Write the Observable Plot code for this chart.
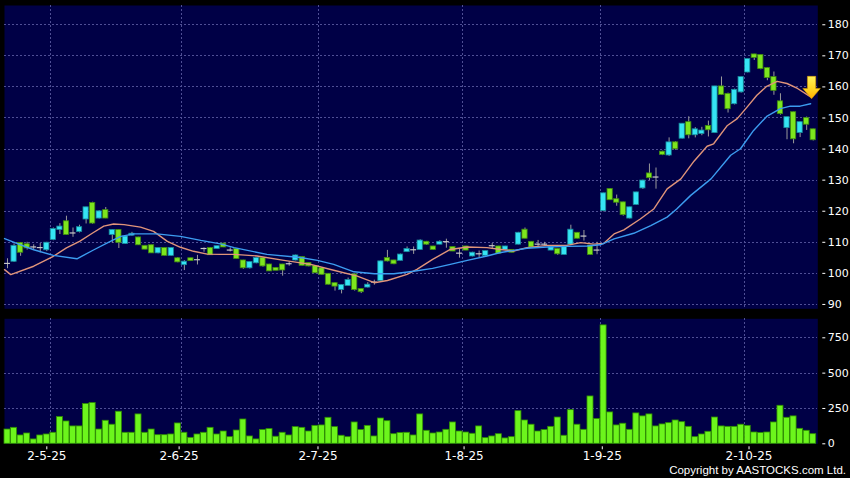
<!DOCTYPE html>
<html><head><meta charset="utf-8">
<script src="https://cdn.jsdelivr.net/npm/d3@7"></script>
<script src="https://cdn.jsdelivr.net/npm/@observablehq/plot@0.6"></script>
<style>
html,body{margin:0;padding:0;background:#000;width:850px;height:478px;overflow:hidden;}
#wrap{position:relative;width:850px;height:478px;}
#price{position:absolute;left:0;top:0;}
#vol{position:absolute;left:0;top:313px;}
#copy{position:absolute;right:4px;top:464px;line-height:13px;color:#fff;font-family:"Liberation Sans",Arial,sans-serif;font-size:11.5px;}
</style></head>
<body><div id="wrap"><div id="price"></div><div id="vol"></div><div id="copy">Copyright by AASTOCKS.com Ltd.</div></div>
<script>
// ---- data ----
const open = [103.2,103.9,109.6,109.2,108.5,108.3,107.6,110.9,114.1,116.6, 113.0,113.5,117.5,122.5,117.8,120.2,112.5,113.8,109.6,112.3, 111.4,108.7,108.9,106.6,108.0,105.8,104.7,102.8,104.7,104.4, 108.0,108.0,108.0,109.4,107.5,107.7,104.0,101.8,103.4,104.8, 102.7,101.6,102.7,103.1,104.3,105.1,103.2,102.2,101.5,99.7, 96.7,94.8,96.1,99.5,94.8,95.6,97.2,97.7,104.8,104.0, 104.2,107.0,107.6,107.7,110.0,108.5,109.4,110.2,108.3,106.5, 108.5,105.6,106.3,105.8,108.9,108.5,107.7,107.4,109.4,113.9, 110.0,109.4,109.4,107.5,107.7,106.1,109.4,112.9,112.0,108.8, 107.5,120.2,127.0,123.7,122.7,117.8,122.2,127.5,132.0,131.0, 139.0,138.1,142.0,143.5,148.5,144.6,145.0,147.3,145.3,160.0, 157.6,154.6,158.4,164.8,170.3,170.1,165.9,163.0,155.2,146.9, 151.7,145.3,149.8,146.2];
const high = [104.7,109.5,109.9,110.0,109.2,109.6,110.0,114.6,116.0,118.4, 114.6,115.5,121.3,122.9,120.2,121.2,114.1,114.1,112.0,113.2, 111.6,109.0,109.1,108.2,108.2,108.2,105.1,104.1,104.9,105.8, 108.2,108.3,108.8,109.7,108.2,107.9,104.2,103.7,105.0,105.0, 102.9,101.9,102.9,103.7,105.9,105.3,103.4,102.4,101.7,99.9, 97.0,96.3,98.5,99.9,95.0,97.0,97.8,104.0,107.4,104.2, 106.2,108.5,108.5,110.8,110.3,108.7,110.5,111.0,108.5,108.0, 108.7,106.8,107.2,107.2,109.6,108.7,108.7,107.6,113.2,114.6, 110.2,110.6,110.0,108.5,107.9,108.7,115.5,113.1,113.8,109.0, 110.0,125.8,127.3,125.2,122.9,121.3,126.1,130.0,135.2,133.9, 139.3,143.6,142.4,148.2,150.4,146.9,147.0,149.0,160.2,163.2, 158.0,159.3,163.2,169.0,170.5,170.3,166.2,164.8,157.8,150.3, 151.9,148.8,150.3,146.4];
const low = [101.5,103.5,105.5,107.5,107.4,106.6,107.0,110.5,112.5,112.3, 111.6,113.0,115.9,115.8,117.5,117.6,109.7,108.0,109.3,111.9, 109.0,107.6,106.4,106.3,105.6,105.5,103.4,100.9,103.9,102.7, 106.8,105.8,107.8,108.3,106.9,104.6,101.3,101.4,103.1,102.0, 100.6,100.8,99.1,102.3,104.0,102.4,102.1,100.0,99.4,96.3, 94.3,93.4,95.9,94.3,93.5,95.3,96.2,97.5,103.7,102.8, 104.0,106.7,106.1,107.5,109.0,107.4,109.2,108.1,107.0,104.9, 107.3,105.3,105.1,105.6,107.7,106.3,107.4,106.6,109.2,111.1, 108.3,108.6,108.8,107.3,105.8,105.9,108.9,111.1,110.4,105.9, 106.0,119.8,123.5,121.6,118.4,117.5,121.9,127.0,129.9,127.1, 137.9,137.6,139.6,143.2,143.3,143.6,144.3,143.9,145.0,157.3, 151.6,154.2,158.0,164.5,168.5,165.5,162.0,157.3,150.9,143.0, 141.7,143.7,146.0,142.6];
const close = [103.2,108.7,106.8,108.2,108.5,108.3,109.7,114.1,114.9,112.5, 113.0,114.7,121.1,116.2,119.8,117.8,113.8,110.0,111.7,112.6, 109.2,107.8,106.6,108.0,105.8,108.0,103.7,103.6,104.1,104.4, 108.0,106.0,108.6,108.5,107.5,104.8,101.8,103.5,104.8,102.4, 100.8,101.0,101.1,103.1,105.6,102.6,102.4,100.2,99.7,96.5, 95.9,96.1,97.7,94.8,94.1,96.2,97.2,103.7,104.0,103.1, 105.9,107.7,107.6,110.4,109.4,107.7,110.0,110.2,107.2,106.5, 107.5,106.5,106.3,107.0,108.9,106.5,108.5,106.8,112.9,111.3, 108.5,109.4,109.4,108.3,106.3,108.5,113.9,111.3,112.0,106.1, 107.5,125.6,123.7,122.9,118.9,121.1,125.9,129.7,130.8,131.0, 138.3,142.0,140.1,148.0,144.6,146.2,145.8,146.2,160.0,157.6, 153.0,158.9,163.0,168.8,169.5,165.9,163.0,158.9,151.4,150.1, 143.3,148.5,148.0,143.0];
const volume = [101,113,59,73,31,59,66,78,189,158,123,123,281,288,101,163,135,227,78,78,208,78,101,61,61,66,144,78,42,66,78,113,66,87,47,94,172,52,31,97,104,50,78,59,
  118,113,87,127,130,184,118,57,47,151,97,127,52,179,160,68,76,78,59,208,92,73,80,99,151,87,80,71,123,40,52,68,38,47,231,165,135,87,97,120,186,57,238,
  135,99,335,175,838,222,130,142,99,215,194,208,123,137,146,165,153,120,47,66,85,186,123,120,120,135,127,80,76,80,151,269,184,194,106,92,68];
const ma10Index = [-0.45,0.5,4,7,9,11,13,14.7,16.2,17.8,20.3,22.3,24.4,26.4,28.4,30.5,32.5,34.6,38.1,42.2,46.3,49.8,53.4,56,58,61,62.5,64.9,67.6,70.2,73.2,75.3,77.3,79.3,82.4,85.4,87.5,89.5,91,92.6,94.1,96.6,98.7,100.7,102.8,104.8,106.8,107.8,109.9,111.4,112.9,114.4,115.9,117.5,119,120.6,122.6];
const ma10Value = [101.2,99.6,102.3,105.5,108.2,110.3,113,115.2,115.9,115.7,114.9,113.5,110.3,108.4,107.1,106.2,106.1,106.1,105.6,104.2,102.9,101,99.1,97,97.7,99.7,101.3,104.5,107.7,108.5,108.3,107.7,107.2,108.3,109,109,109.9,109.4,109.6,112.7,114,117.5,120.8,127.2,130.4,136.1,140.9,141.7,147.6,149.8,153.5,157.3,160.2,161.8,161.1,159.5,156.8];
const ma20Index = [-0.45,2,4,7,10.6,13.2,15.7,17.3,19.3,22.8,26.4,29.5,32.5,34.6,39.6,44.7,47.3,49.8,52.9,56,59,62,64.9,67.6,70.2,73.2,75.3,77.3,79.3,82.4,85.4,88.5,90.5,92.6,95.6,98.2,100.7,102.2,104.3,107.4,110.4,111.9,113.9,115.9,118,119.5,121,122.6];
const ma20Value = [111.2,109.2,107.6,105.8,104.7,107.6,110.3,111.9,112.7,112.7,111.9,110.6,109.5,108.3,106.1,105.1,104.2,102.9,100.5,99.9,99.9,100.7,101.6,102.9,104.2,105.6,106.7,107.4,108.1,108.5,108.7,108.8,109.2,111.1,112.9,115.4,118.1,120.8,125.1,130.4,138,140.1,146,150.5,153,153.8,153.8,154.6];
const monthLabels = ["2-5-25","2-6-25","2-7-25","1-8-25","1-9-25","2-10-25"];
const monthTickIndex = [6.0,26.2,47.4,69.7,90.8,113.2];
const monthGridIndex = [6.5,26.5,47.5,69.5,90.5,112.5];
const priceTicks = [90,100,110,120,130,140,150,160,170,180];
const volumeTicks = [0,250,500,750];
const signalIndex = [122.75];
const signalPrice = [159.7];

// ---- styles ----
const NAVY = "#000046", GRID = "#4f4f95", UP = "#35e4f4", UP_S = "#178a9a", DOWN = "#7de61e", DOWN_S = "#3f8a10";
const FONT = "DejaVu Sans";
const xDomain = [-0.458, 123.7];
const gridStyle = {stroke: GRID, strokeDasharray: "2,2", strokeWidth: 1, shapeRendering: "crispEdges"};

const candles = open.map((o, i) => ({i, o, h: high[i], l: low[i], c: close[i]}));
const bodies = candles.filter(d => d.o !== d.c);
const dojis = candles.filter(d => d.o === d.c);
const ma10 = ma10Index.map((x, k) => ({x, y: ma10Value[k]}));
const ma20 = ma20Index.map((x, k) => ({x, y: ma20Value[k]}));
const signal = signalIndex.map((x, k) => ({x, y: signalPrice[k]}));
const vols = volume.map((v, i) => ({i, v}));
const labelMap = new Map(monthTickIndex.map((t, k) => [t, monthLabels[k]]));

const arrowSymbol = {
  draw(ctx, size) {
    const r = Math.sqrt(size / Math.PI);
    ctx.moveTo(-0.36 * r, -r); ctx.lineTo(0.36 * r, -r); ctx.lineTo(0.36 * r, 0.05 * r);
    ctx.lineTo(0.76 * r, 0.05 * r); ctx.lineTo(0, 0.95 * r); ctx.lineTo(-0.76 * r, 0.05 * r);
    ctx.lineTo(-0.36 * r, 0.05 * r); ctx.closePath();
  }
};
const gradDefs = () => {
  const defs = d3.create("svg:defs");
  const g = defs.append("linearGradient").attr("id", "arrowGrad").attr("x1", 0).attr("y1", 0).attr("x2", 0).attr("y2", 1);
  g.append("stop").attr("offset", "0%").attr("stop-color", "#fff25a");
  g.append("stop").attr("offset", "60%").attr("stop-color", "#ffd21e");
  g.append("stop").attr("offset", "100%").attr("stop-color", "#ffae00");
  return defs.node();
};

const price = Plot.plot({
  width: 850, height: 313,
  marginLeft: 4, marginRight: 32.7, marginTop: 5, marginBottom: 4.7,
  x: {domain: xDomain, axis: null},
  y: {domain: [88.6, 186.2], axis: null},
  style: {background: "transparent", color: "#fff", fontFamily: FONT, fontSize: "11px"},
  marks: [
    gradDefs,
    Plot.frame({fill: NAVY, stroke: "none"}),
    Plot.ruleY(priceTicks, gridStyle),
    Plot.ruleX(monthGridIndex, gridStyle),
    Plot.ruleX(candles, {x: "i", y1: "l", y2: "h", stroke: "#9a9a9a", strokeWidth: 1}),
    Plot.rect(bodies, {x1: d => d.i - 0.4, x2: d => d.i + 0.4, y1: d => Math.min(d.o, d.c), y2: d => Math.max(d.o, d.c),
      fill: d => d.c > d.o ? UP : DOWN, stroke: d => d.c > d.o ? UP_S : DOWN_S, strokeWidth: 0.8, insetTop: -0.5, insetBottom: -0.5}),
    Plot.ruleY(dojis, {x1: d => d.i - 0.45, x2: d => d.i + 0.45, y: "o", stroke: "#c8c8c8", strokeWidth: 1.2}),
    Plot.line(ma10, {x: "x", y: "y", stroke: "#e0947a", strokeWidth: 1.4}),
    Plot.line(ma20, {x: "x", y: "y", stroke: "#3c9cf0", strokeWidth: 1.4}),
    Plot.dot(signal, {x: "x", y: "y", symbol: arrowSymbol, r: 11.5, fill: "url(#arrowGrad)", stroke: "#d89a00", strokeWidth: 0.6}),
    Plot.axisY(priceTicks, {anchor: "right", tickSize: 3, tickPadding: 3, dx: 4, color: "#fff", fontSize: 11, label: null})
  ]
});
document.getElementById("price").append(price);

const vol = Plot.plot({
  width: 850, height: 165,
  marginLeft: 4, marginRight: 32.7, marginTop: 5.3, marginBottom: 34.7,
  x: {domain: xDomain, axis: null},
  y: {domain: [0, 884.5], axis: null},
  style: {background: "transparent", color: "#fff", fontFamily: FONT, fontSize: "11px"},
  marks: [
    Plot.frame({fill: NAVY, stroke: "none"}),
    Plot.ruleY(volumeTicks.filter(v => v > 0), gridStyle),
    Plot.ruleX(monthGridIndex, gridStyle),
    Plot.rectY(vols, {x1: d => d.i - 0.46, x2: d => d.i + 0.46, y: "v", fill: "#6cf51c", stroke: "#2f8f00", strokeWidth: 0.8}),
    Plot.axisY(volumeTicks, {anchor: "right", tickSize: 3, tickPadding: 3, dx: 4, color: "#fff", fontSize: 11, label: null}),
    Plot.axisX(monthTickIndex, {anchor: "bottom", tickSize: 3, tickPadding: 2, dy: 3, color: "#fff", fontSize: 12, label: null, tickFormat: d => labelMap.get(d)})
  ]
});
document.getElementById("vol").append(vol);
</script>
</body></html>
